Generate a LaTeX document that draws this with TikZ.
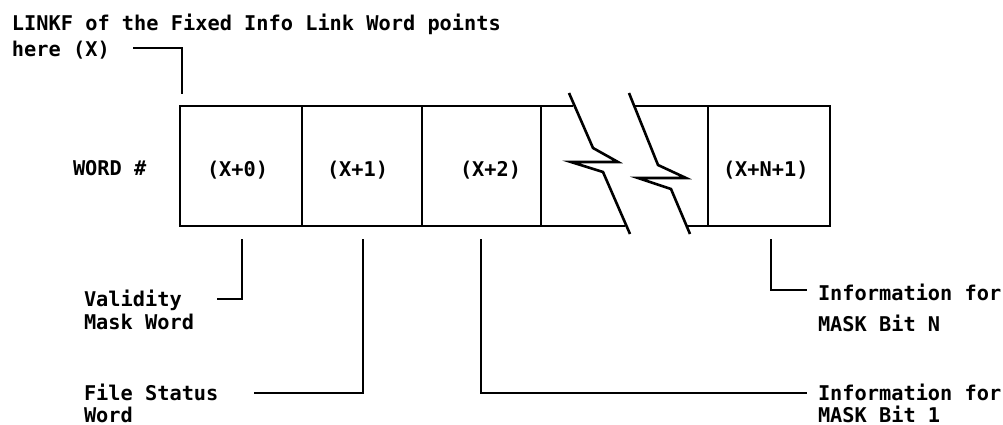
\documentclass[tikz,border=0pt]{standalone}
\usepackage{fontspec}
\setmonofont{DejaVu Sans Mono}
\begin{document}
\begin{tikzpicture}[x=1pt,y=-1pt,
  lbl/.style={font=\ttfamily\bfseries\fontsize{20.3}{23}\selectfont, inner sep=0pt, outer sep=0pt, anchor=base west, align=left},
  ln/.style={line width=2.6pt, line cap=butt, line join=miter}]
\useasboundingbox (0,0) rectangle (1003,425);
% texts (multi-line nodes are placed at the baseline of their last line)
\node[lbl, font=\ttfamily\bfseries\fontsize{20.3}{26}\selectfont] (linkf) at (12,57) {LINKF of the Fixed Info Link Word points\\here (X)};
\node[lbl] (word) at (73,175) {WORD \#};
\node[lbl] (t0) at (207,176) {(X+0)};
\node[lbl] (t1) at (327,176) {(X+1)};
\node[lbl] (t2) at (460,176) {(X+2)};
\node[lbl] (tN) at (723,176) {(X+N+1)};
\node[lbl] (valid) at (84,329) {Validity\\Mask Word};
\node[lbl, font=\ttfamily\bfseries\fontsize{20.3}{22}\selectfont] (fstat) at (84,422) {File Status\\Word};
\node[lbl, font=\ttfamily\bfseries\fontsize{20.3}{31}\selectfont] (infN) at (818,331) {Information for\\MASK Bit N};
\node[lbl, font=\ttfamily\bfseries\fontsize{20.3}{22}\selectfont] (inf1) at (818,422) {Information for\\MASK Bit 1};
% box outline
\draw[ln] (573,106) -| (180,226) -- (625,226);
\draw[ln] (635,106) -| (830,226) -- (687,226);
\foreach \x in {302,422,541,708} \draw[ln] (\x,106) -- (\x,226);
% break marks
\draw[ln] (569,93) -- (593,148) -- (618,162) -- (571,162) -- (603,172) -- (630,234);
\draw[ln] (629,93) -- (658,165) -- (686,178) -- (638,178) -- (671,189) -- (690,234);
% leader coordinates
\coordinate (linkfEnd) at (133,48);
\coordinate (boxTop) at (182,94);
\coordinate (c0) at (242,239);
\coordinate (validEnd) at (217,299);
\coordinate (c1) at (363,239);
\coordinate (fstatEnd) at (254,393);
\coordinate (c2) at (481,239);
\coordinate (inf1End) at (807,393);
\coordinate (cN) at (771,239);
\coordinate (infNEnd) at (807,290);
% leaders
\draw[ln] (linkfEnd) -| (boxTop);
\draw[ln] (c0) |- (validEnd);
\draw[ln] (c1) |- (fstatEnd);
\draw[ln] (c2) |- (inf1End);
\draw[ln] (cN) |- (infNEnd);
\end{tikzpicture}
\end{document}
